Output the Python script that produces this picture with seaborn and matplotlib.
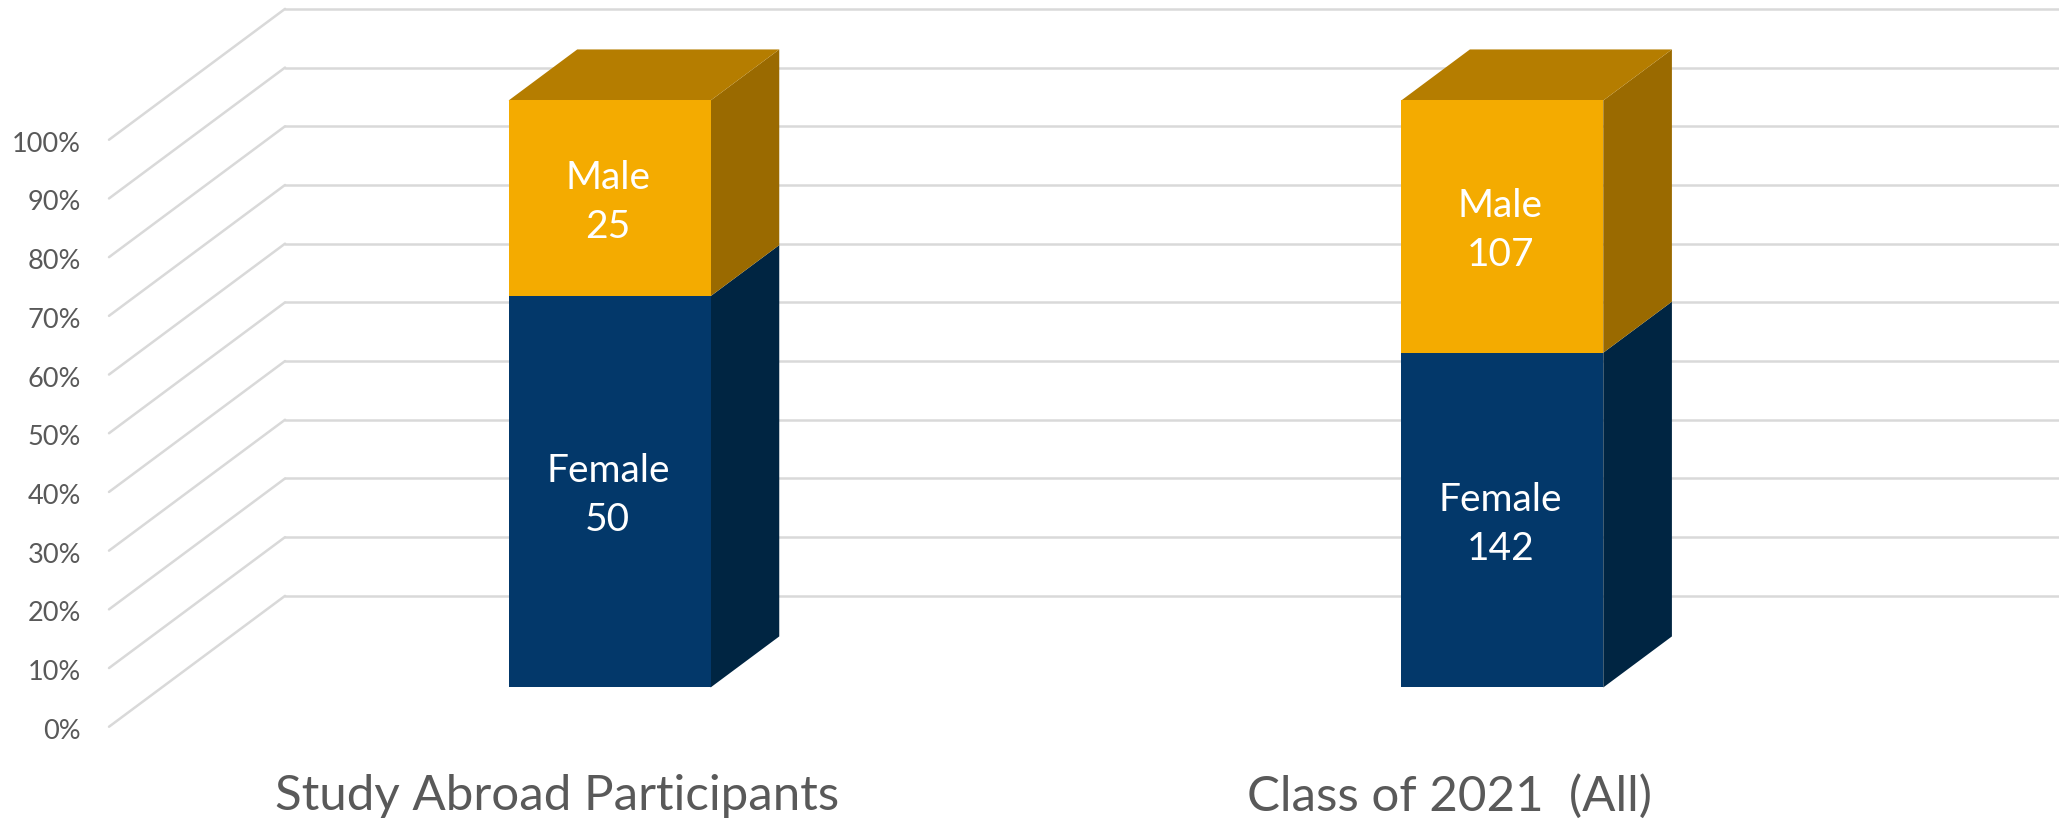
import matplotlib
matplotlib.use("Agg")
import matplotlib.pyplot as plt
from matplotlib.transforms import ScaledTranslation
import seaborn as sns
import pandas as pd
import numpy as np

groups = ["Study Abroad Participants", "Class of 2021  (All)"]
female = [50, 142]
male = [25, 107]
percent_ticks = [0, 10, 20, 30, 40, 50, 60, 70, 80, 90, 100]

NAVY, NAVY_SIDE = "#03386A", "#002542"
GOLD, GOLD_SIDE, GOLD_TOP = "#F4AB00", "#9A6A00", "#B57D00"
GRID = "#D9D9D9"
TEXT = "#595959"

# oblique projection, in data units: how far the floor runs back
FLOOR_DX, FLOOR_DY = 0.1972, 22.3
BAR_START, BAR_END = 0.30, 0.69  # bar front and back, as part of the floor depth
BAR_WIDTH = 0.2263
LABEL_DROP = 0.7  # the two line labels sit a little under the segment centre

df = pd.DataFrame({"group": groups, "female": female, "male": male})
df["total"] = df["female"] + df["male"]
df["female_pct"] = df["female"] / df["total"] * 100

sns.set_theme(style="white")
plt.rcParams["font.family"] = ["Lato", "DejaVu Sans"]

fig = plt.figure(figsize=(20.59, 8.21), dpi=100)
ax = fig.add_axes([109 / 2059, 1 - 745 / 821, 1950 / 2059, 745 / 821])

# stacked column: full height in gold, female share on top of it
df["full"] = 100.0
sns.barplot(data=df, x="group", y="full", color=GOLD, saturation=1, width=BAR_WIDTH,
            ax=ax, zorder=4, errorbar=None, linewidth=0)
sns.barplot(data=df, x="group", y="female_pct", color=NAVY, saturation=1, width=BAR_WIDTH,
            ax=ax, zorder=5, errorbar=None, linewidth=0)

ax.set_xlim(-0.5608, 1.6237)
ax.set_ylim(-9.80, 117.12)

front_dx, front_dy = BAR_START * FLOOR_DX, BAR_START * FLOOR_DY
depth_dx = (BAR_END - BAR_START) * FLOOR_DX
depth_dy = (BAR_END - BAR_START) * FLOOR_DY

# walls and floor
xmin, xmax = ax.get_xlim()
for v in percent_ticks:
    y0 = v - front_dy
    ax.plot([xmin, xmin + FLOOR_DX], [y0, y0 + FLOOR_DY], color=GRID, lw=1.8, clip_on=False, zorder=1)
    ax.plot([xmin + FLOOR_DX, xmax], [y0 + FLOOR_DY, y0 + FLOOR_DY], color=GRID, lw=1.8, clip_on=False, zorder=1)

# side and top faces follow the bars seaborn has drawn
for i, pct in enumerate(df["female_pct"]):
    right = i + BAR_WIDTH / 2
    left = i - BAR_WIDTH / 2
    ax.fill([right, right + depth_dx, right + depth_dx, right],
            [0, depth_dy, pct + depth_dy, pct], color=NAVY_SIDE, lw=0, zorder=3)
    ax.fill([right, right + depth_dx, right + depth_dx, right],
            [pct, pct + depth_dy, 100 + depth_dy, 100], color=GOLD_SIDE, lw=0, zorder=3)
    ax.fill([left, left + depth_dx, right + depth_dx, right],
            [100, 100 + depth_dy, 100 + depth_dy, 100], color=GOLD_TOP, lw=0, zorder=3)
    ax.text(i - 0.002, pct / 2 - LABEL_DROP, f"Female\n{df['female'][i]}", color="white", fontsize=28,
            ha="center", va="center", linespacing=1.45, zorder=6)
    ax.text(i - 0.002, (pct + 100) / 2 - LABEL_DROP, f"Male\n{df['male'][i]}", color="white", fontsize=28,
            ha="center", va="center", linespacing=1.45, zorder=6)

ax.set_yticks([v - front_dy for v in percent_ticks])
ax.set_yticklabels([f"{v}%" for v in percent_ticks])
ax.set_xticks([i - front_dx for i in range(len(groups))])
ax.set_xticklabels(groups)
ax.tick_params(axis="y", length=0, pad=20, labelsize=19.5, labelcolor=TEXT)
ax.tick_params(axis="x", length=0, pad=21, labelsize=35.5, labelcolor=TEXT)
nudge = ScaledTranslation(0, -2 / 100, fig.dpi_scale_trans)
for label in ax.get_yticklabels():
    label.set_transform(label.get_transform() + nudge)
ax.set_xlabel("")
ax.set_ylabel("")
sns.despine(ax=ax, left=True, bottom=True)

fig.savefig("out.png", dpi=100)
